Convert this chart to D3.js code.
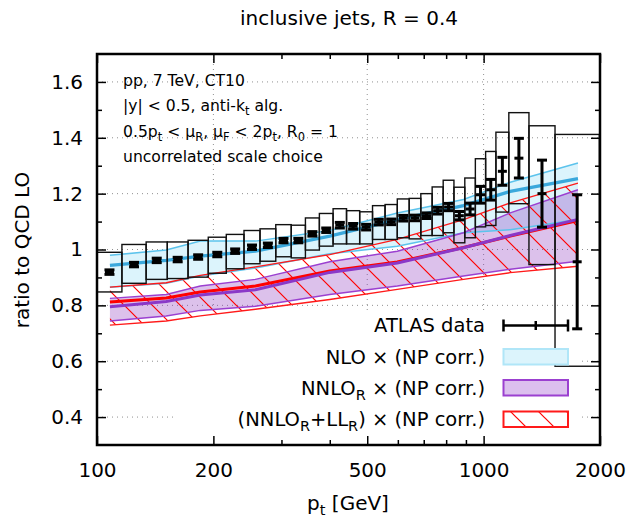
<!DOCTYPE html>
<html>
<head>
<meta charset="utf-8">
<script src="https://cdn.jsdelivr.net/npm/d3@7"></script>
<style>
  body { margin: 0; background: #fff; }
  text { font-family: "DejaVu Sans", sans-serif; fill: #000; }
</style>
</head>
<body>
<svg width="631" height="517"></svg>
<script>
// ATLAS bins (pt edges, GeV) and measured ratio
var binEdges = [100,116,134,152,172,194,216,240,264,290,318,346,376,408,442,478,516,556,598,642,688,736,786,838,894,952,1012,1076,1162,1310,1530,1992];
var dataVal  = [0.919,0.946,0.961,0.964,0.973,0.982,0.994,1.008,1.015,1.032,1.032,1.056,1.069,1.087,1.083,1.080,1.098,1.099,1.112,1.113,1.121,1.139,1.152,1.121,1.145,1.196,1.214,1.280,1.327,1.200,0.956];
var dataStat = [0.008,0.008,0.008,0.008,0.008,0.008,0.008,0.008,0.008,0.008,0.008,0.008,0.008,0.010,0.010,0.010,0.010,0.010,0.010,0.010,0.010,0.012,0.013,0.015,0.021,0.030,0.037,0.050,0.071,0.120,0.240];
var sysLow   = [0.848,0.879,0.893,0.896,0.901,0.915,0.931,0.949,0.958,0.974,0.970,0.998,1.012,1.020,1.020,1.020,1.036,1.036,1.042,1.038,1.050,1.050,1.060,1.024,1.042,1.081,1.086,1.134,1.164,0.946,0.582];
var sysHigh  = [0.990,1.018,1.027,1.027,1.033,1.044,1.054,1.068,1.074,1.089,1.087,1.113,1.129,1.146,1.139,1.135,1.157,1.161,1.181,1.183,1.200,1.224,1.248,1.223,1.256,1.325,1.351,1.420,1.490,1.443,1.412];

// theory bands
var thPt    = [108,151,185,257,400,598,887,1172,1754];
var nloLo   = [0.865,0.879,0.905,0.934,0.985,1.012,1.060,1.071,1.107];
var nloMid  = [0.943,0.961,0.976,0.994,1.048,1.107,1.157,1.208,1.254];
var nloHi   = [0.979,0.998,1.030,1.030,1.068,1.131,1.179,1.241,1.310];
var nnloLo  = [0.744,0.762,0.782,0.797,0.839,0.869,0.905,0.929,0.958];
var nnloMid = [0.795,0.814,0.837,0.856,0.918,0.952,1.006,1.050,1.108];
var nnloHi  = [0.825,0.839,0.869,0.893,0.956,0.994,1.060,1.131,1.214];
var resLo   = [0.729,0.744,0.762,0.786,0.821,0.857,0.893,0.917,0.940];
var resMid  = [0.812,0.826,0.848,0.869,0.923,0.955,1.007,1.048,1.104];
var resHi   = [0.865,0.881,0.907,0.938,0.982,1.036,1.107,1.167,1.238];

var xTicks = [100,200,500,1000,2000];
var xMinor = [300,400,600,700,800,900];
var yTicks = [0.4,0.6,0.8,1,1.2,1.4,1.6];
var yMinor = [0.5,0.7,0.9,1.1,1.3,1.5];

var svg = d3.select("svg");
var margin = {top: 54, right: 31, bottom: 72, left: 97};
var width = +svg.attr("width") - margin.left - margin.right;
var height = +svg.attr("height") - margin.top - margin.bottom;

var x = d3.scaleLog().domain([100, 2000]).range([0, width]);
var y = d3.scaleLinear().domain([0.3, 1.7]).range([height, 0]);

var defs = svg.append("defs");
defs.append("clipPath").attr("id", "clip")
  .append("rect").attr("width", width).attr("height", height);
var hatch = defs.append("pattern").attr("id", "hatch")
  .attr("patternUnits", "userSpaceOnUse").attr("width", 28).attr("height", 28);
hatch.append("path").attr("d", "M-7,-7L35,35M-7,21L7,35M21,-7L35,7")
  .style("stroke", "#ff0000").style("stroke-width", "1.2px").style("fill", "none");

var g = svg.append("g")
  .attr("transform", "translate(" + margin.left + "," + margin.top + ")");

// text with subscripts: parts are strings or [sub]
function rich(sel, parts, subSize, shift) {
  var back = 0;
  parts.forEach(function(p) {
    if (typeof p === "string") {
      var t = sel.append("tspan").text(p);
      if (back) { t.attr("dy", -back); back = 0; }
    } else {
      sel.append("tspan").attr("dy", shift).attr("font-size", subSize).text(p[0]);
      back = shift;
    }
  });
  return sel;
}

// grid
var grid = g.append("g").attr("stroke", "#909090").attr("stroke-dasharray", "1,4");
grid.selectAll(".gy").data(yTicks).enter().append("line")
  .attr("x1", 0).attr("x2", width)
  .attr("y1", function(d) { return y(d); }).attr("y2", function(d) { return y(d); });
grid.selectAll(".gx").data([200, 500, 1000]).enter().append("line")
  .attr("y1", 0).attr("y2", height)
  .attr("x1", function(d) { return x(d); }).attr("x2", function(d) { return x(d); });

// opaque key background
g.append("rect").attr("x", 78).attr("y", 258).attr("width", 403).attr("height", 128)
  .attr("fill", "#fff");

var bands = g.append("g").attr("clip-path", "url(#clip)");

function rows(lo, mid, hi) {
  return thPt.map(function(p, i) { return {pt: p, lo: lo[i], mid: mid[i], hi: hi[i]}; });
}
var nlo = rows(nloLo, nloMid, nloHi);
var nnlo = rows(nnloLo, nnloMid, nnloHi);
var res = rows(resLo, resMid, resHi);

var area = d3.area()
  .x(function(d) { return x(d.pt); })
  .y0(function(d) { return y(d.lo); })
  .y1(function(d) { return y(d.hi); });
function line(key) {
  return d3.line().x(function(d) { return x(d.pt); }).y(function(d) { return y(d[key]); });
}

bands.append("path").datum(nlo).attr("d", area).attr("fill", "#dcf4fc");
bands.append("path").datum(nnlo).attr("d", area).attr("fill", "rgba(140,50,190,0.3)");
bands.append("path").datum(res).attr("d", area).attr("fill", "url(#hatch)");

function edges(data, color, w) {
  ["lo", "hi"].forEach(function(k) {
    bands.append("path").datum(data).attr("d", line(k))
      .attr("fill", "none").attr("stroke", color).attr("stroke-width", w);
  });
}
edges(nlo, "#5cc3ec", 1.5);
edges(nnlo, "#9b40d0", 1.5);
edges(res, "#ff1a1a", 1.3);

bands.append("path").datum(nlo).attr("d", line("mid"))
  .attr("fill", "none").attr("stroke", "#3aa8dc").attr("stroke-width", 3.2);
bands.append("path").datum(res).attr("d", line("mid"))
  .attr("fill", "none").attr("stroke", "#ff0000").attr("stroke-width", 3);
bands.append("path").datum(nnlo).attr("d", line("mid"))
  .attr("fill", "none").attr("stroke", "#8a38c8").attr("stroke-width", 3);

// ATLAS data
var data = dataVal.map(function(v, i) {
  var lo = binEdges[i], hi = binEdges[i + 1];
  return {lo: lo, hi: hi, c: Math.sqrt(lo * hi), v: v, e: dataStat[i], sl: sysLow[i], sh: sysHigh[i]};
});

var dg = g.append("g").attr("clip-path", "url(#clip)");
dg.selectAll(".box").data(data).enter().append("rect")
  .attr("x", function(d) { return x(d.lo); })
  .attr("width", function(d) { return x(d.hi) - x(d.lo); })
  .attr("y", function(d) { return y(d.sh); })
  .attr("height", function(d) { return y(d.sl) - y(d.sh); })
  .attr("fill", "none").attr("stroke", "#111").attr("stroke-width", 1.4);

var eb = dg.selectAll(".eb").data(data).enter().append("g")
  .attr("stroke", "#000").attr("stroke-width", 3);
eb.append("line")
  .attr("x1", function(d) { return x(d.c); }).attr("x2", function(d) { return x(d.c); })
  .attr("y1", function(d) { return y(d.v - d.e); }).attr("y2", function(d) { return y(d.v + d.e); });
[-1, 1].forEach(function(s) {
  eb.append("line")
    .attr("x1", function(d) { return x(d.c) - 5; }).attr("x2", function(d) { return x(d.c) + 5; })
    .attr("y1", function(d) { return y(d.v + s * d.e); }).attr("y2", function(d) { return y(d.v + s * d.e); });
});
eb.append("line")
  .attr("x1", function(d) { return x(d.c) - 4.5; }).attr("x2", function(d) { return x(d.c) + 4.5; })
  .attr("y1", function(d) { return y(d.v); }).attr("y2", function(d) { return y(d.v); });

// axes
function styleAxis(a) {
  a.select(".domain").remove();
  a.selectAll("line").attr("stroke", "#000").attr("stroke-width", 1.5);
  a.selectAll("text").attr("font-size", 20).attr("font-family", "DejaVu Sans");
}
function bare(a) {
  styleAxis(a);
  a.selectAll("text").remove();
}
g.append("g").attr("transform", "translate(0," + height + ")")
  .call(d3.axisBottom(x).tickValues(xTicks).tickSize(-9).tickPadding(18).tickFormat(d3.format("d")))
  .call(styleAxis);
g.append("g").attr("transform", "translate(0," + height + ")")
  .call(d3.axisBottom(x).tickValues(xMinor).tickSize(-5))
  .call(bare);
g.append("g")
  .call(d3.axisTop(x).tickValues(xTicks).tickSize(-9))
  .call(bare);
g.append("g")
  .call(d3.axisTop(x).tickValues(xMinor).tickSize(-5))
  .call(bare);
g.append("g")
  .call(d3.axisLeft(y).tickValues(yTicks).tickSize(-9).tickPadding(14).tickFormat(function(d) { return String(+d.toFixed(1)); }))
  .call(styleAxis);
g.append("g")
  .call(d3.axisLeft(y).tickValues(yMinor).tickSize(-5))
  .call(bare);
g.append("g").attr("transform", "translate(" + width + ",0)")
  .call(d3.axisRight(y).tickValues(yTicks).tickSize(-9))
  .call(bare);
g.append("g").attr("transform", "translate(" + width + ",0)")
  .call(d3.axisRight(y).tickValues(yMinor).tickSize(-5))
  .call(bare);

g.append("rect").attr("width", width).attr("height", height)
  .attr("fill", "none").attr("stroke", "#000").attr("stroke-width", 2.5);

// annotation
var notes = [
  ["pp, 7 TeV, CT10"],
  ["|y| < 0.5, anti-k", ["t"], " alg."],
  ["0.5p", ["t"], " < \u03bc", ["R"], ", \u03bc", ["F"], " < 2p", ["t"], ", R", ["0"], " = 1"],
  ["uncorrelated scale choice"]
];
notes.forEach(function(parts, i) {
  rich(g.append("text").attr("x", 26).attr("y", 32 + i * 25.3).attr("font-size", 15.6),
    parts, 11.5, 4);
});

// legend
var legX = 388, sx = 406.5, sw = 64.5;
var leg = [
  {parts: ["ATLAS data"], y: 278},
  {parts: ["NLO \u00d7 (NP corr.)"], y: 309.5},
  {parts: ["NNLO", ["R"], " \u00d7 (NP corr.)"], y: 340.5},
  {parts: ["(NNLO", ["R"], "+LL", ["R"], ") \u00d7 (NP corr.)"], y: 371.5}
];
leg.forEach(function(l) {
  rich(g.append("text").attr("x", legX).attr("y", l.y).attr("text-anchor", "end").attr("font-size", 19.5),
    l.parts, 14.5, 5);
});
var ly = 271.5;
var lk = g.append("g").attr("stroke", "#000").attr("stroke-width", 2.5);
lk.append("line").attr("x1", sx).attr("x2", sx + sw).attr("y1", ly).attr("y2", ly);
[sx, sx + sw].forEach(function(px) {
  lk.append("line").attr("x1", px).attr("x2", px).attr("y1", ly - 6).attr("y2", ly + 6);
});
lk.append("line").attr("x1", sx + sw / 2).attr("x2", sx + sw / 2).attr("y1", ly - 4.5).attr("y2", ly + 4.5);

g.append("rect").attr("x", sx).attr("y", 295).attr("width", sw).attr("height", 15.5)
  .attr("fill", "#dcf4fc").attr("stroke", "#b0e6f8").attr("stroke-width", 2);
g.append("rect").attr("x", sx).attr("y", 326).attr("width", sw).attr("height", 15.5)
  .attr("fill", "#dcc0ee").attr("stroke", "#9b40d0").attr("stroke-width", 2);
g.append("rect").attr("x", sx).attr("y", 357.5).attr("width", sw).attr("height", 15.5)
  .attr("fill", "url(#hatch)").attr("stroke", "#ff1a1a").attr("stroke-width", 2);

// titles
svg.append("text").attr("x", 349).attr("y", 25).attr("text-anchor", "middle")
  .attr("font-size", 20).text("inclusive jets, R = 0.4");
rich(svg.append("text").attr("x", 348).attr("y", 510).attr("text-anchor", "middle").attr("font-size", 20),
  ["p", ["t"], " [GeV]"], 14.5, 5);
svg.append("text").attr("transform", "translate(29,250) rotate(-90)")
  .attr("text-anchor", "middle").attr("font-size", 20).text("ratio to QCD LO");
</script>
</body>
</html>
